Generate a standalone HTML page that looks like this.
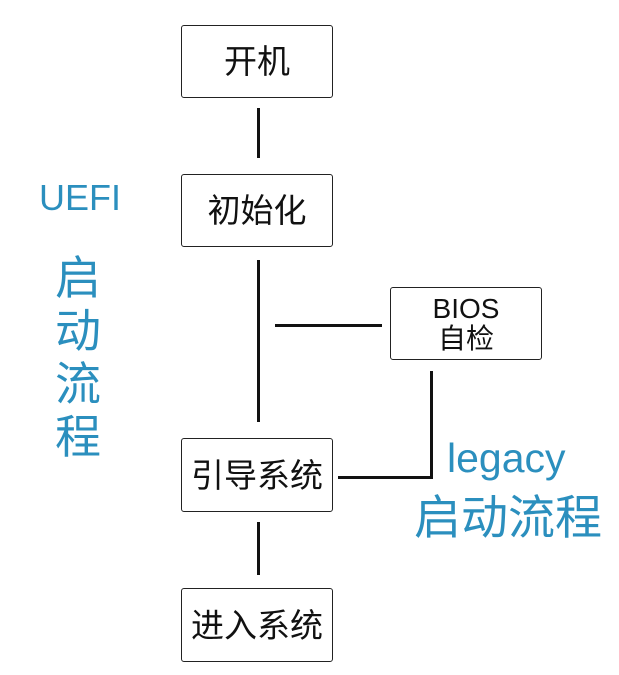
<!DOCTYPE html>
<html><head><meta charset="utf-8"><style>
body{margin:0;background:#fff;width:619px;height:675px;position:relative;overflow:hidden;font-family:"Liberation Sans","Noto Sans CJK SC",sans-serif}
.b{position:absolute;box-sizing:border-box;border:1.5px solid #222;border-radius:3px;display:flex;align-items:center;justify-content:center;text-align:center;color:#111;font-size:33px;line-height:1}
.l{position:absolute;background:#111}
.t{position:absolute;color:#2b8fbe;white-space:nowrap;line-height:1}
</style></head><body>
<div class="b" style="left:181px;top:25px;width:152px;height:73px">开机</div>
<div class="b" style="left:181px;top:174px;width:152px;height:73px">初始化</div>
<div class="b" style="left:390px;top:287px;width:152px;height:73px;font-size:28px;line-height:1.05">BIOS<br>自检</div>
<div class="b" style="left:181px;top:438px;width:152px;height:74px">引导系统</div>
<div class="b" style="left:181px;top:588px;width:152px;height:74px">进入系统</div>
<div class="l" style="left:257px;top:108px;width:3px;height:50px"></div>
<div class="l" style="left:257px;top:260px;width:3px;height:162px"></div>
<div class="l" style="left:275px;top:324px;width:107px;height:3px"></div>
<div class="l" style="left:430px;top:371px;width:3px;height:108px"></div>
<div class="l" style="left:338px;top:476px;width:95px;height:3px"></div>
<div class="l" style="left:257px;top:522px;width:3px;height:53px"></div>
<div class="t" style="left:39px;top:180px;font-size:36px">UEFI</div>
<div class="t" style="left:55px;top:252px;font-size:46px;line-height:53px;width:48px;white-space:normal">启动流程</div>
<div class="t" style="left:447px;top:438px;font-size:41px">legacy</div>
<div class="t" style="left:414px;top:494px;font-size:47px">启动流程</div>
</body></html>
